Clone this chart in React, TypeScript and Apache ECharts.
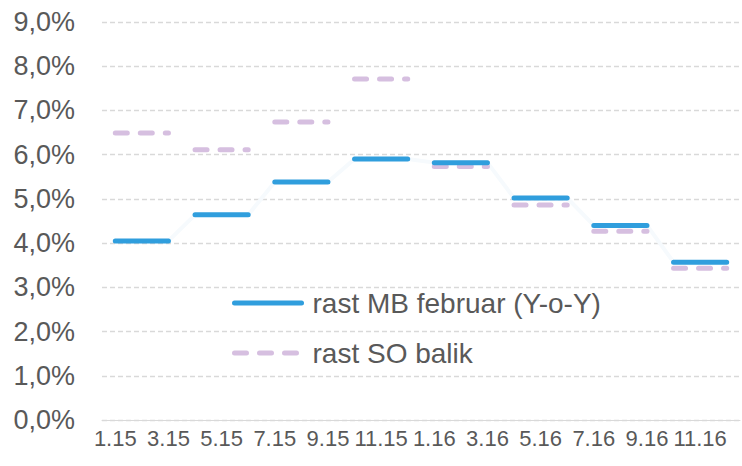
import React, { useEffect, useRef } from "react";
import * as echarts from "echarts";

const months: string[] = [
  "1.15", "2.15", "3.15", "4.15", "5.15", "6.15", "7.15", "8.15", "9.15", "10.15", "11.15", "12.15",
  "1.16", "2.16", "3.16", "4.16", "5.16", "6.16", "7.16", "8.16", "9.16", "10.16", "11.16", "12.16",
];
// quarterly values (percent)
const mbQuarterly: number[] = [4.05, 4.64, 5.38, 5.9, 5.82, 5.02, 4.4, 3.57];
const soQuarterly: number[] = [6.49, 6.11, 6.74, 7.71, 5.73, 4.86, 4.27, 3.43];
const yTicks: number[] = [0, 1, 2, 3, 4, 5, 6, 7, 8, 9];

const MB_NAME = "rast MB februar (Y-o-Y)";
const SO_NAME = "rast SO balik";
const BLUE = "#309edd";
const PURPLE = "#d6bfe0";
const FONT = "'Liberation Sans', Arial, sans-serif";

function quarterSeries(values: number[], q: number): (number | null)[] {
  return months.map((_, i) => (Math.floor(i / 3) === q ? values[q] : null));
}

export default function App() {
  const ref = useRef<HTMLDivElement>(null);
  useEffect(() => {
    if (!ref.current) return;
    const chart = echarts.init(ref.current, undefined, { renderer: "svg" });
    const series: any[] = [];
    series.push({
      name: "connector",
      type: "line",
      data: months.map((_, i) => mbQuarterly[Math.floor(i / 3)]),
      symbol: "none",
      silent: true,
      z: 1,
      lineStyle: { color: "#f6fafd", width: 4 },
    });
    mbQuarterly.forEach((_, q) => {
      series.push({
        name: MB_NAME,
        type: "line",
        data: quarterSeries(mbQuarterly, q),
        symbol: "none",
        z: 3,
        color: BLUE,
        lineStyle: { color: BLUE, width: 5, cap: "round" },
      });
    });
    soQuarterly.forEach((_, q) => {
      series.push({
        name: SO_NAME,
        type: "line",
        data: quarterSeries(soQuarterly, q),
        symbol: "none",
        z: 2,
        color: PURPLE,
        lineStyle: { color: PURPLE, width: 5, cap: "round", type: [12, 13] },
      });
    });
    chart.setOption({
      animation: false,
      grid: { left: 102, right: 2, top: 22, bottom: 46 },
      legend: {
        data: [MB_NAME, SO_NAME],
        orient: "vertical",
        left: 227,
        top: 284,
        itemWidth: 67,
        itemHeight: 28,
        itemGap: 22,
        itemStyle: { opacity: 0 },
        lineStyle: { width: 5, cap: "round" },
        textStyle: { fontSize: 28, color: "#595959", fontFamily: FONT, padding: [0, 0, 0, 6] },
      },
      xAxis: {
        type: "category",
        data: months,
        boundaryGap: true,
        axisLine: { lineStyle: { color: "#d9d9d9", width: 1 } },
        axisTick: { interval: 1, length: 10, lineStyle: { color: "#d9d9d9" } },
        axisLabel: {
          interval: 1,
          fontSize: 22,
          color: "#595959",
          fontFamily: FONT,
          margin: 7,
        },
      },
      yAxis: {
        type: "value",
        min: yTicks[0],
        max: yTicks[yTicks.length - 1],
        interval: 1,
        axisLine: { show: false },
        axisTick: { show: false },
        splitLine: { lineStyle: { color: "#d9d9d9", type: [5, 3], width: 1.3 } },
        axisLabel: {
          fontSize: 27,
          color: "#595959",
          fontFamily: FONT,
          margin: 27,
          formatter: (v: number) => v.toFixed(1).replace(".", ",") + "%",
        },
      },
      series,
    });
    return () => chart.dispose();
  }, []);
  return <div ref={ref} style={{ width: 742, height: 466, position: "absolute", left: 0, top: 0, background: "#fff" }} />;
}
